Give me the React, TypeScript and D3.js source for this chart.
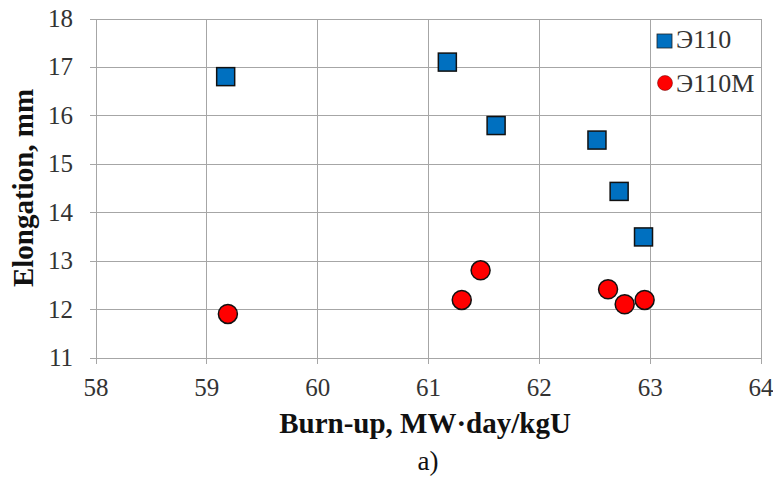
import React, { useRef, useEffect } from 'react';
import * as d3 from 'd3';

// Э110 cladding
const e110Burnup = [59.17, 61.17, 61.61, 62.52, 62.72, 62.94];
const e110Elong = [16.81, 17.11, 15.8, 15.5, 14.44, 13.5];
// Э110M cladding
const e110mBurnup = [59.19, 61.3, 61.47, 62.62, 62.77, 62.95];
const e110mElong = [11.91, 12.2, 12.81, 12.42, 12.11, 12.2];

const xTicks = [58, 59, 60, 61, 62, 63, 64];
const yTicks = [11, 12, 13, 14, 15, 16, 17, 18];
const seriesNames = ['Э110', 'Э110M'];

const W = 773;
const H = 482;
const FONT = 'Liberation Serif, Times New Roman, serif';

const App = () => {
  const ref = useRef<SVGSVGElement>(null);

  useEffect(() => {
    const svg = d3.select(ref.current);
    svg.selectAll('*').remove();

    const left = 96, right = 761, top = 19, bottom = 358;

    const x = d3.scaleLinear().domain([58, 64]).range([left, right]);
    const y = d3.scaleLinear().domain([11, 18]).range([bottom, top]);

    svg.append('rect').attr('width', W).attr('height', H).attr('fill', '#fff');

    // grid
    const grid = svg.append('g').attr('stroke', '#a6a6a6').attr('stroke-width', 1);
    xTicks.forEach(t => {
      grid.append('line')
        .attr('x1', x(t)).attr('x2', x(t))
        .attr('y1', top).attr('y2', bottom + 6)
        .attr('shape-rendering', 'crispEdges');
    });
    yTicks.forEach(t => {
      grid.append('line')
        .attr('x1', left - 6).attr('x2', right)
        .attr('y1', y(t)).attr('y2', y(t))
        .attr('shape-rendering', 'crispEdges');
    });

    // tick labels
    const lab = svg.append('g').attr('font-family', FONT).attr('font-size', 25).attr('fill', '#333');
    xTicks.forEach(t => {
      lab.append('text').attr('x', x(t)).attr('y', 396)
        .attr('text-anchor', 'middle').text(t);
    });
    yTicks.forEach(t => {
      lab.append('text').attr('x', 73).attr('y', y(t) + 8)
        .attr('text-anchor', 'end').text(t);
    });

    // axis titles
    svg.append('text')
      .attr('x', 425).attr('y', 433)
      .attr('text-anchor', 'middle')
      .attr('font-family', FONT).attr('font-size', 29).attr('font-weight', 'bold')
      .attr('fill', '#111')
      .text('Burn-up, MW·day/kgU');
    svg.append('text')
      .attr('transform', `translate(33,188) rotate(-90)`)
      .attr('text-anchor', 'middle')
      .attr('font-family', FONT).attr('font-size', 29).attr('font-weight', 'bold')
      .attr('fill', '#111')
      .text('Elongation, mm');
    svg.append('text')
      .attr('x', 428).attr('y', 470)
      .attr('text-anchor', 'middle')
      .attr('font-family', FONT).attr('font-size', 27)
      .attr('fill', '#111')
      .text('a)');

    // Э110 squares
    const sq = 18;
    svg.append('g').selectAll('rect')
      .data(d3.zip(e110Burnup, e110Elong))
      .join('rect')
      .attr('x', d => x(d[0]) - sq / 2)
      .attr('y', d => y(d[1]) - sq / 2)
      .attr('width', sq).attr('height', sq)
      .attr('fill', '#0070c0').attr('stroke', '#111').attr('stroke-width', 1.5);

    // Э110M circles
    svg.append('g').selectAll('circle')
      .data(d3.zip(e110mBurnup, e110mElong))
      .join('circle')
      .attr('cx', d => x(d[0]))
      .attr('cy', d => y(d[1]))
      .attr('r', 9.5)
      .attr('fill', '#ff0000').attr('stroke', '#111').attr('stroke-width', 1.5);

    // legend
    const lg = svg.append('g').attr('font-family', FONT).attr('font-size', 26).attr('fill', '#333');
    lg.append('rect').attr('x', 657).attr('y', 34).attr('width', 15).attr('height', 14)
      .attr('fill', '#0070c0').attr('stroke', '#222').attr('stroke-width', 0.8);
    lg.append('text').attr('x', 676).attr('y', 48).text(seriesNames[0]);
    lg.append('circle').attr('cx', 665).attr('cy', 83).attr('r', 7.5)
      .attr('fill', '#ff0000').attr('stroke', '#600').attr('stroke-width', 0.5);
    lg.append('text').attr('x', 676).attr('y', 92).text(seriesNames[1]);
  }, []);

  return (
    <div style={{ position: 'absolute', left: 0, top: 0 }}>
      <svg ref={ref} width={W} height={H}></svg>
    </div>
  );
};

export default App;
